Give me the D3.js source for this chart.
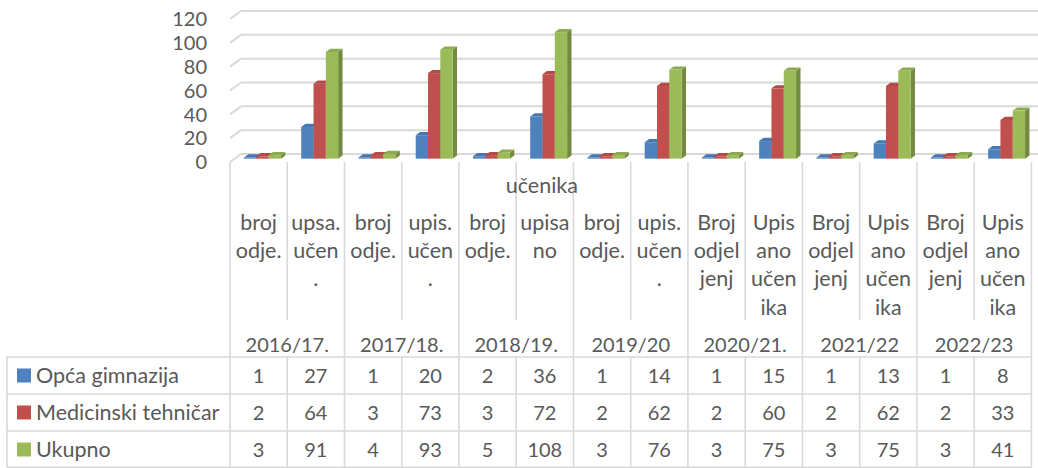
<!DOCTYPE html>
<html>
<head>
<meta charset="utf-8">
<script src="https://cdn.jsdelivr.net/npm/d3@7"></script>
<style>
  body { margin: 0; background: #fff; }
  text { font-family: Lato, "Open Sans", sans-serif; fill: #595959; }
</style>
</head>
<body>
<div id="chart"></div>
<script>
"use strict";
(function() {

const WIDTH = 1038
const HEIGHT = 468

// data
const series = ["Opća gimnazija", "Medicinski tehničar", "Ukupno"]
const colors = ["#4F81BD", "#C0504D", "#9BBB59"]
const sideColors = ["#3A6393", "#943A37", "#738B41"]
const topColors = ["#4677B0", "#B24A47", "#8CAB50"]

const years = ["2016/17.", "2017/18.", "2018/19.", "2019/20", "2020/21.", "2021/22", "2022/23"]
const catLabels = [
    ["broj", "odje."], ["upsa.", "učen", "."],
    ["broj", "odje."], ["upis.", "učen", "."],
    ["broj", "odje."], ["upisa", "no"],
    ["broj", "odje."], ["upis.", "učen", "."],
    ["Broj", "odjel", "jenj"], ["Upis", "ano", "učen", "ika"],
    ["Broj", "odjel", "jenj"], ["Upis", "ano", "učen", "ika"],
    ["Broj", "odjel", "jenj"], ["Upis", "ano", "učen", "ika"]
]
// the one label Excel pushed above its cell
const overflowLabel = { col: 5, text: "učenika" }

const opca = [1, 27, 1, 20, 2, 36, 1, 14, 1, 15, 1, 13, 1, 8]
const medicinski = [2, 64, 3, 73, 3, 72, 2, 62, 2, 60, 2, 62, 2, 33]
const ukupno = [3, 91, 4, 93, 5, 108, 3, 76, 3, 75, 3, 75, 3, 41]
const values = [opca, medicinski, ukupno]

const yTicks = [0, 20, 40, 60, 80, 100, 120]

// layout
const TABLE_LEFT = 7
const PLOT_LEFT = 230
const PLOT_RIGHT = 1031.4
const DX = 11, DY = -8          // depth of the 3d box
const BAR_FRONT = 0.42, BAR_DEPTH = 0.4
const HEADER_TOP = 162
const ROW_TOP = 357
const ROW_H = 37
const LINE_COL = "#D9D9D9"
const NUM_SIZE = "20px", WORD_SIZE = "21.5px"

const svg = d3.select("#chart").append("svg")
    .attr("width", WIDTH)
    .attr("height", HEIGHT)

const x = d3.scaleBand().domain(d3.range(catLabels.length)).range([PLOT_LEFT, PLOT_RIGHT])
const y = d3.scaleLinear().domain([0, 120]).range([162, 19])
// bars sit a bit deeper in the box, so they come out slightly shorter
const barH = d3.scaleLinear().domain([0, 120]).range([0, 140.6])
const xs = d3.scaleBand().domain(d3.range(series.length))
    .range([0, x.bandwidth() * 0.645])

// walls: gridlines on the back wall and the left side wall
const grid = svg.append("g")
yTicks.forEach(t => {
    grid.append("line")
        .attr("x1", PLOT_LEFT).attr("y1", y(t))
        .attr("x2", PLOT_LEFT + DX).attr("y2", y(t) + DY)
        .attr("stroke", LINE_COL).attr("stroke-width", 2)
    grid.append("line")
        .attr("x1", PLOT_LEFT + DX).attr("y1", y(t) + DY)
        .attr("x2", PLOT_RIGHT + DX).attr("y2", y(t) + DY)
        .attr("stroke", LINE_COL).attr("stroke-width", 2)
})

// y axis labels
svg.append("g").selectAll("text").data(yTicks).join("text")
    .attr("x", 207)
    .attr("y", d => y(d))
    .attr("dy", "0.36em")
    .attr("text-anchor", "end")
    .attr("font-size", NUM_SIZE)
    .text(d => d)

// bars
const bars = svg.append("g")
const fdx = BAR_FRONT * DX, fdy = BAR_FRONT * DY
const ddx = BAR_DEPTH * DX, ddy = BAR_DEPTH * DY
const pts = p => p.map(q => q.join(",")).join(" ")

catLabels.forEach((c, i) => {
    const left = x(i) + (x.bandwidth() - xs.range()[1]) / 2 + fdx - 0.8
    series.forEach((s, j) => {
        const v = values[j][i]
        const x0 = left + xs(j), x1 = x0 + xs.bandwidth()
        const yb = y(0) + fdy, yt = yb - barH(v)
        bars.append("polygon")
            .attr("points", pts([[x1, yt], [x1 + ddx, yt + ddy], [x1 + ddx, yb + ddy], [x1, yb]]))
            .attr("fill", sideColors[j])
        bars.append("polygon")
            .attr("points", pts([[x0, yt], [x1, yt], [x1 + ddx, yt + ddy], [x0 + ddx, yt + ddy]]))
            .attr("fill", topColors[j])
        bars.append("rect")
            .attr("x", x0).attr("y", yt)
            .attr("width", x1 - x0).attr("height", yb - yt)
            .attr("fill", colors[j])
    })
})

// data table
const table = svg.append("g")
const line = (x1, y1, x2, y2) => table.append("line")
    .attr("x1", x1).attr("y1", y1).attr("x2", x2).attr("y2", y2)
    .attr("stroke", LINE_COL).attr("stroke-width", 1.6)

const rowY = i => ROW_TOP + i * ROW_H
const bottom = Math.min(rowY(series.length), HEIGHT - 0.8)

for (let i = 0; i <= catLabels.length; i++) {
    const xx = i === catLabels.length ? PLOT_RIGHT : x(i)
    line(xx, HEADER_TOP, xx, i % 2 === 0 ? bottom : 320)
    if (i % 2 === 1) line(xx, ROW_TOP, xx, bottom)
}
line(TABLE_LEFT, ROW_TOP, TABLE_LEFT, bottom)
for (let r = 0; r <= series.length; r++) {
    const yy = r === series.length ? bottom : rowY(r)
    line(TABLE_LEFT, yy, PLOT_RIGHT, yy)
}

// category labels
catLabels.forEach((lines, i) => {
    lines.forEach((l, k) => {
        table.append("text")
            .attr("x", x(i) + x.bandwidth() / 2)
            .attr("y", 222 + k * 28.3)
            .attr("dy", "0.36em")
            .attr("text-anchor", "middle")
            .attr("font-size", WORD_SIZE)
            .text(l)
    })
})
table.append("text")
    .attr("x", x(overflowLabel.col) + x.bandwidth() / 2 - 3)
    .attr("y", 185)
    .attr("dy", "0.36em")
    .attr("text-anchor", "middle")
    .attr("font-size", WORD_SIZE)
    .text(overflowLabel.text)

years.forEach((yr, j) => {
    table.append("text")
        .attr("x", x(2 * j) + x.bandwidth())
        .attr("y", 345)
        .attr("dy", "0.36em")
        .attr("text-anchor", "middle")
        .attr("font-size", NUM_SIZE)
        .text(yr)
})

// legend keys + values
series.forEach((s, r) => {
    const cy = rowY(r) + ROW_H / 2
    table.append("rect")
        .attr("x", 17).attr("y", cy - 7)
        .attr("width", 14).attr("height", 14)
        .attr("fill", colors[r])
    table.append("text")
        .attr("x", 36).attr("y", cy)
        .attr("dy", "0.36em")
        .attr("font-size", WORD_SIZE)
        .text(s)
    values[r].forEach((v, i) => {
        table.append("text")
            .attr("x", x(i) + x.bandwidth() / 2)
            .attr("y", cy)
            .attr("dy", "0.36em")
            .attr("text-anchor", "middle")
            .attr("font-size", NUM_SIZE)
            .text(v)
    })
})

})();
</script>
</body>
</html>
